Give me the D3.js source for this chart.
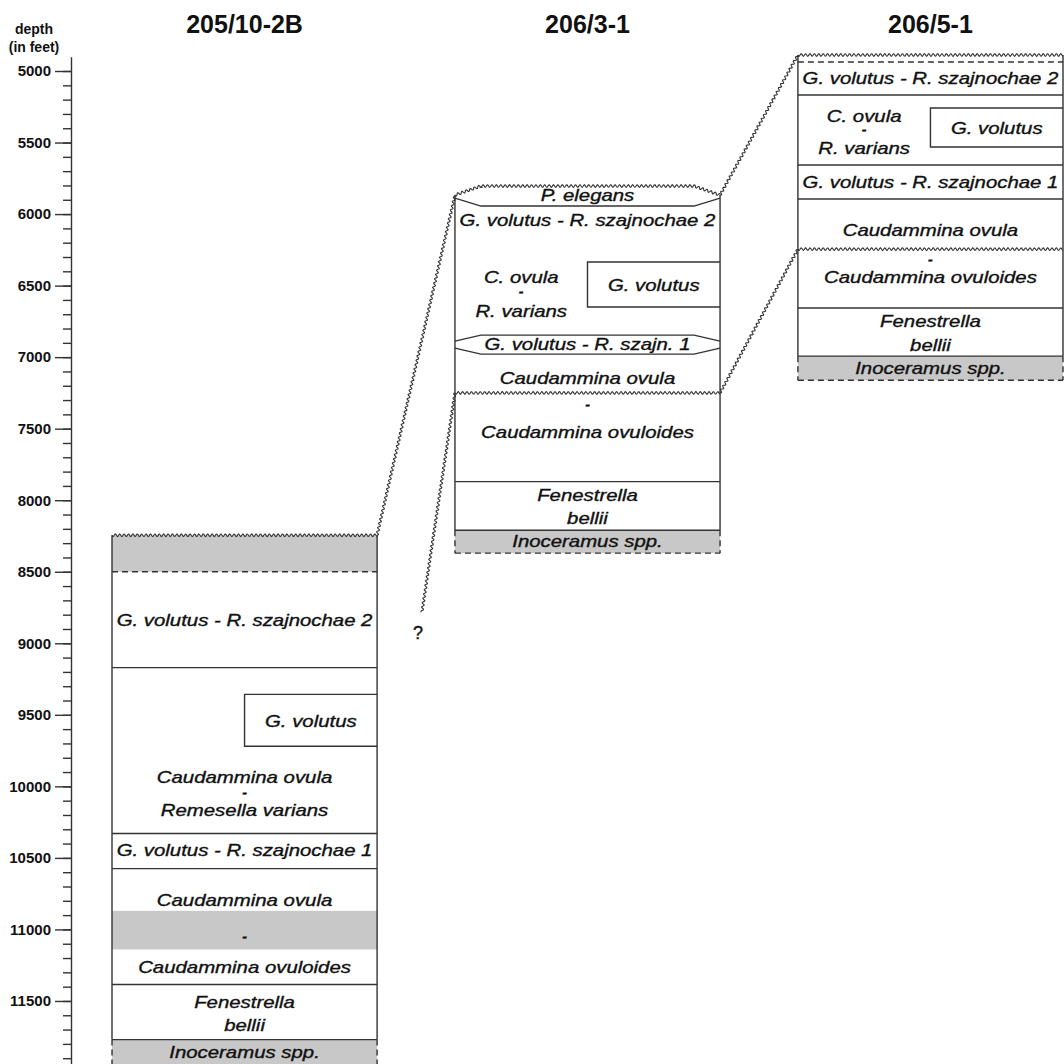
<!DOCTYPE html>
<html>
<head>
<meta charset="utf-8">
<script src="https://cdn.jsdelivr.net/npm/d3@7"></script>
<style>
  body { margin: 0; background: #fff; }
  svg text { font-family: "Liberation Sans", Arial, Helvetica, sans-serif; fill: #111; }
</style>
</head>
<body>
<div id="chart"></div>
<script>
// ---- data (depths in feet) ----
const wells = ["205/10-2B", "206/3-1", "206/5-1"];
const depthTicks = d3.range(5000, 12001, 100);
const depthLabels = d3.range(5000, 11501, 500);

// top / base of each column
const wellTop = { "205/10-2B": 8245, "206/3-1": 5867, "206/5-1": 4888 };
const wellBase = { "205/10-2B": 11990, "206/3-1": 8370, "206/5-1": 7161 };
// where the dashed Inoceramus interval starts
const inoTop = { "205/10-2B": 11770, "206/3-1": 8210, "206/5-1": 6993 };

// internal boundaries [depth, kind]
const bounds205 = [[8500, "dashed"], [9170, "solid"], [10330, "solid"], [10575, "solid"], [11385, "solid"], [11770, "solid"]];
const bounds2063 = [[7250, "wavy"], [7870, "solid"], [8210, "solid"]];
const bounds2065 = [[4937, "dashed"], [5168, "solid"], [5657, "solid"], [5895, "solid"], [6245, "wavy"], [6657, "solid"], [6993, "solid"]];

// pinched lens-shaped boundaries in 206/3-1 [interior depth, edge depth]
const lens2063 = [[5804, 5867, "wavy"], [5944, 5888, "solid"], [6846, 6888, "solid"], [6979, 6937, "solid"]];

// shaded intervals [top, base]
const shade205 = [[8245, 8500], [10870, 11140], [11770, 11990]];
const shade2063 = [[8210, 8370]];
const shade2065 = [[6993, 7161]];

// G. volutus boxes [top, base]
const box205 = [[9357, 9720]];
const box2063 = [[6335, 6650]];
const box2065 = [[5259, 5531]];

// labels [lines, depth of each line, place]
const labels205 = [
  [["G. volutus - R. szajnochae 2"], [8839], "mid"],
  [["G. volutus"], [9545], "box"],
  [["Caudammina ovula", "-", "Remesella varians"], [9937, 10049, 10168], "mid"],
  [["G. volutus - R. szajnochae 1"], [10448], "mid"],
  [["Caudammina ovula", "-", "Caudammina ovuloides"], [10797, 11056, 11266], "mid"],
  [["Fenestrella", "bellii"], [11510, 11671], "mid"],
  [["Inoceramus spp."], [11860], "mid"]
];
const labels2063 = [
  [["P. elegans"], [5867], "mid"],
  [["G. volutus - R. szajnochae 2"], [6042], "mid"],
  [["C. ovula", "-", "R. varians"], [6441, 6545, 6678], "left"],
  [["G. volutus"], [6497], "box"],
  [["G. volutus - R. szajn. 1"], [6909], "mid"],
  [["Caudammina ovula", "-", "Caudammina ovuloides"], [7147, 7336, 7524], "mid"],
  [["Fenestrella", "bellii"], [7965, 8126], "mid"],
  [["Inoceramus spp."], [8287], "mid"]
];
const labels2065 = [
  [["G. volutus - R. szajnochae 2"], [5049], "mid"],
  [["C. ovula", "-", "R. varians"], [5315, 5413, 5538], "left"],
  [["G. volutus"], [5399], "box"],
  [["G. volutus - R. szajnochae 1"], [5776], "mid"],
  [["Caudammina ovula", "-", "Caudammina ovuloides"], [6112, 6322, 6441], "mid"],
  [["Fenestrella", "bellii"], [6748, 6916], "mid"],
  [["Inoceramus spp."], [7077], "mid"]
];

// correlation lines [well, side, depth] -> [well, side, depth]
const links = [
  [["205/10-2B", "right", 8245], ["206/3-1", "left", 5867]],
  [["206/3-1", "right", 5867], ["206/5-1", "left", 4888]],
  [["206/3-1", "right", 7250], ["206/5-1", "left", 6245]]
];
// open-ended one below 206/3-1, ends with a "?"
const openLink = [["206/3-1", "left", 7250], 8783];

const bounds = { "205/10-2B": bounds205, "206/3-1": bounds2063, "206/5-1": bounds2065 };
const shades = { "205/10-2B": shade205, "206/3-1": shade2063, "206/5-1": shade2065 };
const boxes = { "205/10-2B": box205, "206/3-1": box2063, "206/5-1": box2065 };
const labels = { "205/10-2B": labels205, "206/3-1": labels2063, "206/5-1": labels2065 };

// ---- drawing ----
const W = 1064, H = 1064;
const lineColor = "#333", gray = "#c8c8c8";

const svg = d3.select("#chart").append("svg")
  .attr("width", W).attr("height", H);

const y = d3.scaleLinear().domain([4900, 12000]).range([56.7, 1072.5]);
const x = d3.scaleBand().domain(wells).range([112, 1063]).paddingInner(0.227);
const xl = w => x(w), xr = w => x(w) + x.bandwidth(), xm = w => x(w) + x.bandwidth() / 2;

// wavy path along a polyline
function wavyPath(pts, amp = 1.3, wl = 4.4) {
  const out = [];
  let s = 0;
  for (let i = 0; i < pts.length - 1; i++) {
    const [x1, y1] = pts[i], [x2, y2] = pts[i + 1];
    const len = Math.hypot(x2 - x1, y2 - y1);
    const nx = -(y2 - y1) / len, ny = (x2 - x1) / len;
    const n = Math.max(1, Math.ceil(len / 0.7));
    for (let k = 0; k <= n; k++) {
      const t = k / n, o = amp * Math.sin(2 * Math.PI * (s + t * len) / wl);
      out.push([x1 + (x2 - x1) * t + nx * o, y1 + (y2 - y1) * t + ny * o]);
    }
    s += len;
  }
  return d3.line()(out);
}

// depth axis
const axis = svg.append("g").attr("transform", "translate(71,0)");
axis.call(d3.axisLeft(y).tickValues(depthTicks).tickSize(8).tickSizeOuter(0).tickFormat(""));
axis.append("g").call(d3.axisLeft(y).tickValues(depthLabels).tickSize(16).tickPadding(4).tickFormat(d3.format("d")))
  .call(g => g.select(".domain").remove());
axis.selectAll("path, line").attr("stroke", lineColor).attr("stroke-width", 1.4);
axis.selectAll("text").attr("fill", "#111").style("font-size", "15px").style("font-weight", "bold")
  .style("font-family", '"Liberation Sans", Arial, sans-serif');

svg.append("text").attr("x", 34).attr("y", 34).attr("text-anchor", "middle")
  .style("font-size", "14px").style("font-weight", "bold").text("depth");
svg.append("text").attr("x", 34).attr("y", 52).attr("text-anchor", "middle")
  .style("font-size", "14px").style("font-weight", "bold").text("(in feet)");

// well titles
svg.selectAll(".title").data(wells).join("text")
  .attr("class", "title")
  .attr("x", w => xm(w)).attr("y", 33)
  .attr("text-anchor", "middle")
  .style("font-size", "25px").style("font-weight", "bold")
  .text(w => w);

wells.forEach(w => {
  const g = svg.append("g");
  const L = xl(w), R = xr(w), M = xm(w);

  // shading
  shades[w].forEach(([t, b]) => {
    g.append("rect").attr("x", L).attr("y", y(t)).attr("width", R - L).attr("height", y(b) - y(t))
      .attr("fill", gray);
  });

  // sides
  [L, R].forEach(sx => {
    g.append("line").attr("x1", sx).attr("x2", sx).attr("y1", y(wellTop[w])).attr("y2", y(inoTop[w]))
      .attr("stroke", lineColor).attr("stroke-width", 1.4);
    g.append("line").attr("x1", sx).attr("x2", sx).attr("y1", y(inoTop[w])).attr("y2", y(wellBase[w]))
      .attr("stroke", lineColor).attr("stroke-width", 1.4).attr("stroke-dasharray", "6,4");
  });

  // top (wavy) unless a lens handles it, base dashed
  if (w !== "206/3-1") {
    g.append("path").attr("d", wavyPath([[L, y(wellTop[w])], [R, y(wellTop[w])]]))
      .attr("fill", "none").attr("stroke", lineColor).attr("stroke-width", 1.1);
  }
  g.append("line").attr("x1", L).attr("x2", R).attr("y1", y(wellBase[w])).attr("y2", y(wellBase[w]))
    .attr("stroke", lineColor).attr("stroke-width", 1.4).attr("stroke-dasharray", "6,4");

  // internal boundaries
  bounds[w].forEach(([d, kind]) => {
    if (kind === "wavy") {
      g.append("path").attr("d", wavyPath([[L, y(d)], [R, y(d)]]))
        .attr("fill", "none").attr("stroke", lineColor).attr("stroke-width", 1.1);
    } else {
      g.append("line").attr("x1", L).attr("x2", R).attr("y1", y(d)).attr("y2", y(d))
        .attr("stroke", lineColor).attr("stroke-width", 1.4)
        .attr("stroke-dasharray", kind === "dashed" ? "6,4" : null);
    }
  });

  // lens boundaries
  if (w === "206/3-1") {
    lens2063.forEach(([d, e, kind]) => {
      const pts = [[L, y(e)], [L + 26, y(d)], [R - 26, y(d)], [R, y(e)]];
      g.append("path")
        .attr("d", kind === "wavy" ? wavyPath(pts) : d3.line()(pts))
        .attr("fill", "none").attr("stroke", lineColor)
        .attr("stroke-width", kind === "wavy" ? 1.1 : 1.4);
    });
  }

  // G. volutus boxes
  boxes[w].forEach(([t, b]) => {
    g.append("path")
      .attr("d", d3.line()([[R, y(t)], [M, y(t)], [M, y(b)], [R, y(b)]]))
      .attr("fill", "none").attr("stroke", lineColor).attr("stroke-width", 1.4);
  });

  // labels (one text per zone, one tspan per line); the lone dash is set small and heavy
  const px = { mid: M, left: (L + M) / 2, box: (M + R) / 2 };
  labels[w].forEach(([lines, depths, place]) => {
    const y0 = y(depths[0]);
    const t = g.append("text")
      .attr("transform", `translate(${px[place]},${y0}) scale(1.25,1)`)
      .attr("text-anchor", "middle")
      .attr("stroke", "#111").attr("stroke-width", 0.35)
      .style("font-size", "16.3px").style("font-style", "italic");
    lines.forEach((ln, i) => {
      const ts = t.append("tspan").attr("x", 0).attr("y", y(depths[i]) - y0).text(ln);
      if (ln === "-") {
        ts.attr("dy", "0.28em").style("font-size", "9px").style("font-weight", "bold")
          .attr("stroke-width", 0.9);
      } else {
        ts.attr("dy", "0.36em");
      }
    });
  });
});

// correlation lines
const sideX = (w, side) => side === "left" ? xl(w) : xr(w);
links.forEach(([a, b]) => {
  svg.append("path")
    .attr("d", wavyPath([[sideX(a[0], a[1]), y(a[2])], [sideX(b[0], b[1]), y(b[2])]], 1.2, 4.4))
    .attr("fill", "none").attr("stroke", lineColor).attr("stroke-width", 1.1);
});
{
  const [a, endDepth] = openLink;
  const ex = sideX(a[0], a[1]) - 33;
  svg.append("path")
    .attr("d", wavyPath([[sideX(a[0], a[1]), y(a[2])], [ex, y(endDepth)]], 1.2, 4.4))
    .attr("fill", "none").attr("stroke", lineColor).attr("stroke-width", 1.1);
  svg.append("text").attr("x", ex - 4).attr("y", y(endDepth) + 27)
    .attr("text-anchor", "middle").attr("stroke", "#111").attr("stroke-width", 0.4)
    .style("font-size", "18px").text("?");
}
</script>
</body>
</html>
